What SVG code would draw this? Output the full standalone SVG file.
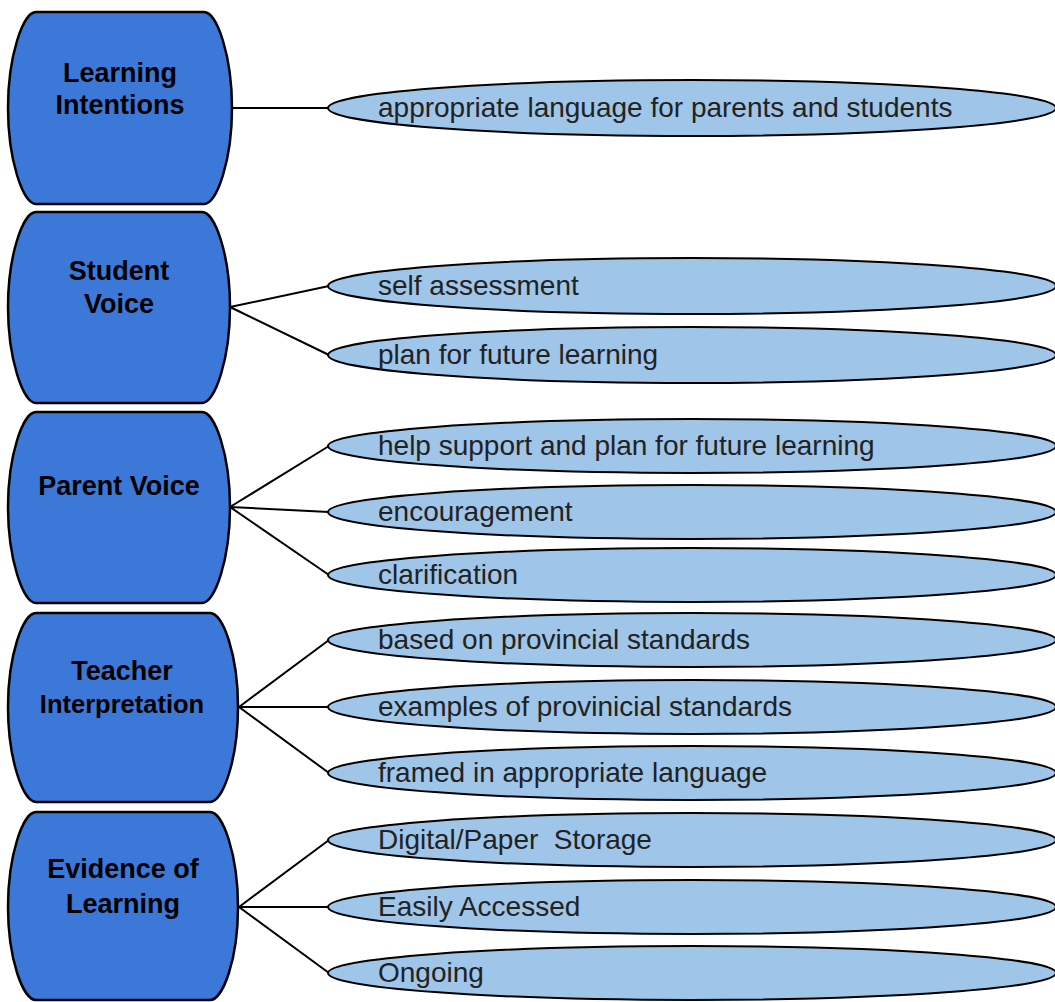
<svg xmlns="http://www.w3.org/2000/svg" width="1055" height="1002" viewBox="0 0 1055 1002">
<style>
.box{fill:#3c78d8;stroke:#000;stroke-width:2.5}
.btx{font-family:"Liberation Sans",Arial,sans-serif;font-weight:bold;font-size:27px;fill:#000;text-anchor:middle}
.leaf{fill:#9fc5e8;stroke:#000;stroke-width:2}
.ltx{font-family:"Liberation Sans",Arial,sans-serif;font-size:28px;fill:#222;white-space:pre}
.con{stroke:#000;stroke-width:2;fill:none}
</style>
<rect width="1055" height="1002" fill="#fff"/>
<g id="connectors">
<path class="con" d="M232,108 L329,108"/>
<path class="con" d="M230,307 L329,286 M230,307 L329,355"/>
<path class="con" d="M230,507 L329,446 M230,507 L329,512 M230,507 L329,575"/>
<path class="con" d="M239,707 L329,640 M239,707 L329,707 M239,707 L329,773"/>
<path class="con" d="M239,907 L329,840 M239,907 L329,907 M239,907 L329,973"/>
</g>
<g id="node-learning-intentions">
<path class="box" d="M36,12 H204 C217,12 232,56 232,108 C232,160 217,204 204,204 H36 C23,204 8,160 8,108 C8,56 23,12 36,12 Z"/>
<text class="btx" x="120" y="82">Learning</text>
<text class="btx" x="120" y="114">Intentions</text>
</g>
<g id="node-student-voice">
<path class="box" d="M36,212 H202 C215,212 230,255 230,307 C230,359 215,403 202,403 H36 C23,403 8,359 8,307 C8,255 23,212 36,212 Z"/>
<text class="btx" x="119" y="280">Student</text>
<text class="btx" x="119" y="313">Voice</text>
</g>
<g id="node-parent-voice">
<path class="box" d="M36,412 H202 C215,412 230,455 230,507 C230,559 215,603 202,603 H36 C23,603 8,559 8,507 C8,455 23,412 36,412 Z"/>
<text class="btx" x="119" y="495">Parent Voice</text>
</g>
<g id="node-teacher-interpretation">
<path class="box" d="M36,613 H210 C223,613 238,655 238,707 C238,759 223,802 210,802 H36 C23,802 8,759 8,707 C8,655 23,613 36,613 Z"/>
<text class="btx" x="122" y="680">Teacher</text>
<text class="btx" x="122" y="713" style="font-size:25.5px">Interpretation</text>
</g>
<g id="node-evidence-of-learning">
<path class="box" d="M36,812 H210 C223,812 238,855 238,907 C238,959 223,1000 210,1000 H36 C23,1000 8,959 8,907 C8,855 23,812 36,812 Z"/>
<text class="btx" x="123" y="878">Evidence of</text>
<text class="btx" x="123" y="913">Learning</text>
</g>
<g id="leaf-1"><ellipse class="leaf" cx="692" cy="108" rx="364" ry="28"/><text class="ltx" x="378" y="117">appropriate language for parents and students</text></g>
<g id="leaf-2"><ellipse class="leaf" cx="692" cy="286" rx="364" ry="28"/><text class="ltx" x="378" y="295">self assessment</text></g>
<g id="leaf-3"><ellipse class="leaf" cx="692" cy="355" rx="364" ry="28"/><text class="ltx" x="378" y="364">plan for future learning</text></g>
<g id="leaf-4"><ellipse class="leaf" cx="692" cy="446" rx="364" ry="27"/><text class="ltx" x="378" y="455">help support and plan for future learning</text></g>
<g id="leaf-5"><ellipse class="leaf" cx="692" cy="512" rx="364" ry="27"/><text class="ltx" x="378" y="521">encouragement</text></g>
<g id="leaf-6"><ellipse class="leaf" cx="692" cy="575" rx="364" ry="27"/><text class="ltx" x="378" y="584">clarification</text></g>
<g id="leaf-7"><ellipse class="leaf" cx="692" cy="640" rx="364" ry="27"/><text class="ltx" x="378" y="649">based on provincial standards</text></g>
<g id="leaf-8"><ellipse class="leaf" cx="692" cy="707" rx="364" ry="27"/><text class="ltx" x="378" y="716">examples of provinicial standards</text></g>
<g id="leaf-9"><ellipse class="leaf" cx="692" cy="773" rx="364" ry="27"/><text class="ltx" x="378" y="782">framed in appropriate language</text></g>
<g id="leaf-10"><ellipse class="leaf" cx="692" cy="840" rx="364" ry="27"/><text class="ltx" x="378" y="849" xml:space="preserve">Digital/Paper  Storage</text></g>
<g id="leaf-11"><ellipse class="leaf" cx="692" cy="907" rx="364" ry="27"/><text class="ltx" x="378" y="916">Easily Accessed</text></g>
<g id="leaf-12"><ellipse class="leaf" cx="692" cy="973" rx="364" ry="27"/><text class="ltx" x="378" y="982">Ongoing</text></g>
</svg>
